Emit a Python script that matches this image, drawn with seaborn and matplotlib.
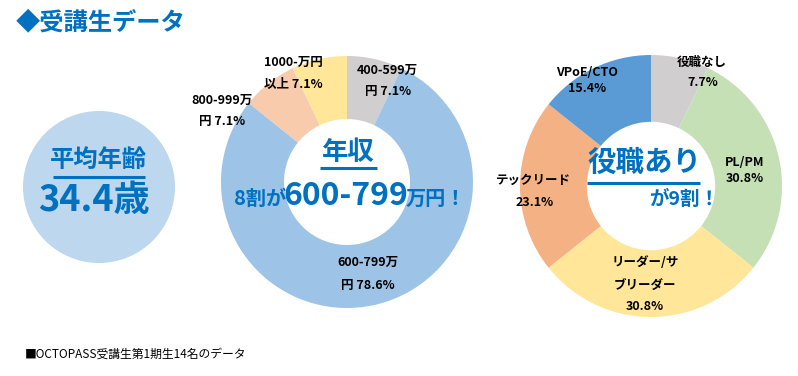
import numpy as np
import matplotlib
matplotlib.use('Agg')
import matplotlib.pyplot as plt
import seaborn as sns
from matplotlib.patches import Circle

# data
income_labels = ['400-599万円', '600-799万円', '800-999万円', '1000-万円以上']
income_pct = [7.1, 78.6, 7.1, 7.1]
income_colors = ['#D0CECE', '#9DC3E6', '#F8CBAD', '#FFE699']

role_labels = ['役職なし', 'PL/PM', 'リーダー/サブリーダー', 'テックリード', 'VPoE/CTO']
role_pct = [7.7, 30.8, 30.8, 23.1, 15.4]
role_colors = ['#D0CECE', '#C5E0B4', '#FFE699', '#F4B183', '#5B9BD5']

avg_age = 34.4
n_students = 14

sns.set_theme(style='white')
plt.rcParams['font.family'] = ['Noto Sans CJK JP', 'DejaVu Sans']

W, H = 798, 376
BLUE = '#0070C0'
fig = plt.figure(figsize=(W / 100, H / 100), dpi=100)
fig.patch.set_facecolor('white')


def donut_axes(cx, cy, R):
    # axes placed in pixel units so the donut lands where the reference has it
    return fig.add_axes([(cx - R) / W, (H - cy - R) / H, 2 * R / W, 2 * R / H])


ax1 = donut_axes(347, 182, 126)
ax1.pie(income_pct, colors=income_colors, startangle=90, counterclock=False,
        radius=1, wedgeprops=dict(width=0.5, linewidth=0))
ax1.set_xlim(-1, 1)
ax1.set_ylim(-1, 1)
ax1.axis('off')

ax2 = donut_axes(651, 186, 131)
ax2.pie(role_pct, colors=role_colors, startangle=90, counterclock=False,
        radius=1, wedgeprops=dict(width=0.51, linewidth=0))
ax2.set_xlim(-1, 1)
ax2.set_ylim(-1, 1)
ax2.axis('off')

# overlay for the text, pixel coordinates (y down)
ov = fig.add_axes([0, 0, 1, 1])
ov.set_xlim(0, W)
ov.set_ylim(H, 0)
ov.axis('off')

ov.text(16, 22, '◆受講生データ', color=BLUE, fontsize=17.5, fontweight='bold',
        ha='left', va='center')

# average age bubble
ov.add_patch(Circle((99, 187), 76, color='#BDD7EE', lw=0))
ov.text(98, 160, '平均年齢', color=BLUE, fontsize=17.5, fontweight='bold',
        ha='center', va='center')
ov.plot([53, 145], [177, 177], color=BLUE, lw=2.2, solid_capstyle='butt')
ov.text(94, 200, f'{avg_age}歳', color=BLUE, fontsize=26, fontweight='bold',
        ha='center', va='center')

# income donut labels
lab_kw = dict(fontsize=9, fontweight='bold', color='black', ha='center', va='center')
income_text = [
    [('400-599万', 387, 70), ('円 7.1%', 388, 92)],
    [('600-799万', 368, 262), ('円 78.6%', 368, 285)],
    [('800-999万', 222, 100), ('円 7.1%', 222, 122)],
    [('1000-万円', 293, 62), ('以上 7.1%', 293, 84)],
]
for lines in income_text:
    for s, x, y in lines:
        ov.text(x, y, s, **lab_kw)

ov.text(348, 153, '年収', color=BLUE, fontsize=19, fontweight='bold',
        ha='center', va='center')
ov.plot([320, 377], [168, 168], color=BLUE, lw=2.2, solid_capstyle='butt')
ov.text(286, 205, '8割が', color=BLUE, fontsize=14.5, fontweight='bold',
        ha='right', va='baseline')
ov.text(346, 205, '600-799', color=BLUE, fontsize=23, fontweight='bold',
        ha='center', va='baseline')
ov.text(406, 205, '万円！', color=BLUE, fontsize=14.5, fontweight='bold',
        ha='left', va='baseline')

# role donut labels
role_text = [
    [('役職なし', 702, 62), ('7.7%', 703, 82)],
    [('PL/PM', 745, 162), ('30.8%', 745, 178)],
    [('リーダー/サ', 645, 263), ('ブリーダー', 645, 286), ('30.8%', 645, 307)],
    [('テックリード', 533, 180), ('23.1%', 535, 202)],
    [('VPoE/CTO', 587, 72), ('15.4%', 587, 89)],
]
for lines in role_text:
    for s, x, y in lines:
        ov.text(x, y, s, **lab_kw)

ov.text(644, 163, '役職あり', color=BLUE, fontsize=20.5, fontweight='bold',
        ha='center', va='center')
ov.plot([587, 700], [183, 183], color=BLUE, lw=2.2, solid_capstyle='butt')
ov.text(684, 199, 'が9割！', color=BLUE, fontsize=14, fontweight='bold',
        ha='center', va='center')

ov.text(25, 354, f'■OCTOPASS受講生第1期生{n_students}名のデータ', color='black',
        fontsize=8.5, ha='left', va='center')

fig.savefig('out.png', dpi=100, facecolor='white')
